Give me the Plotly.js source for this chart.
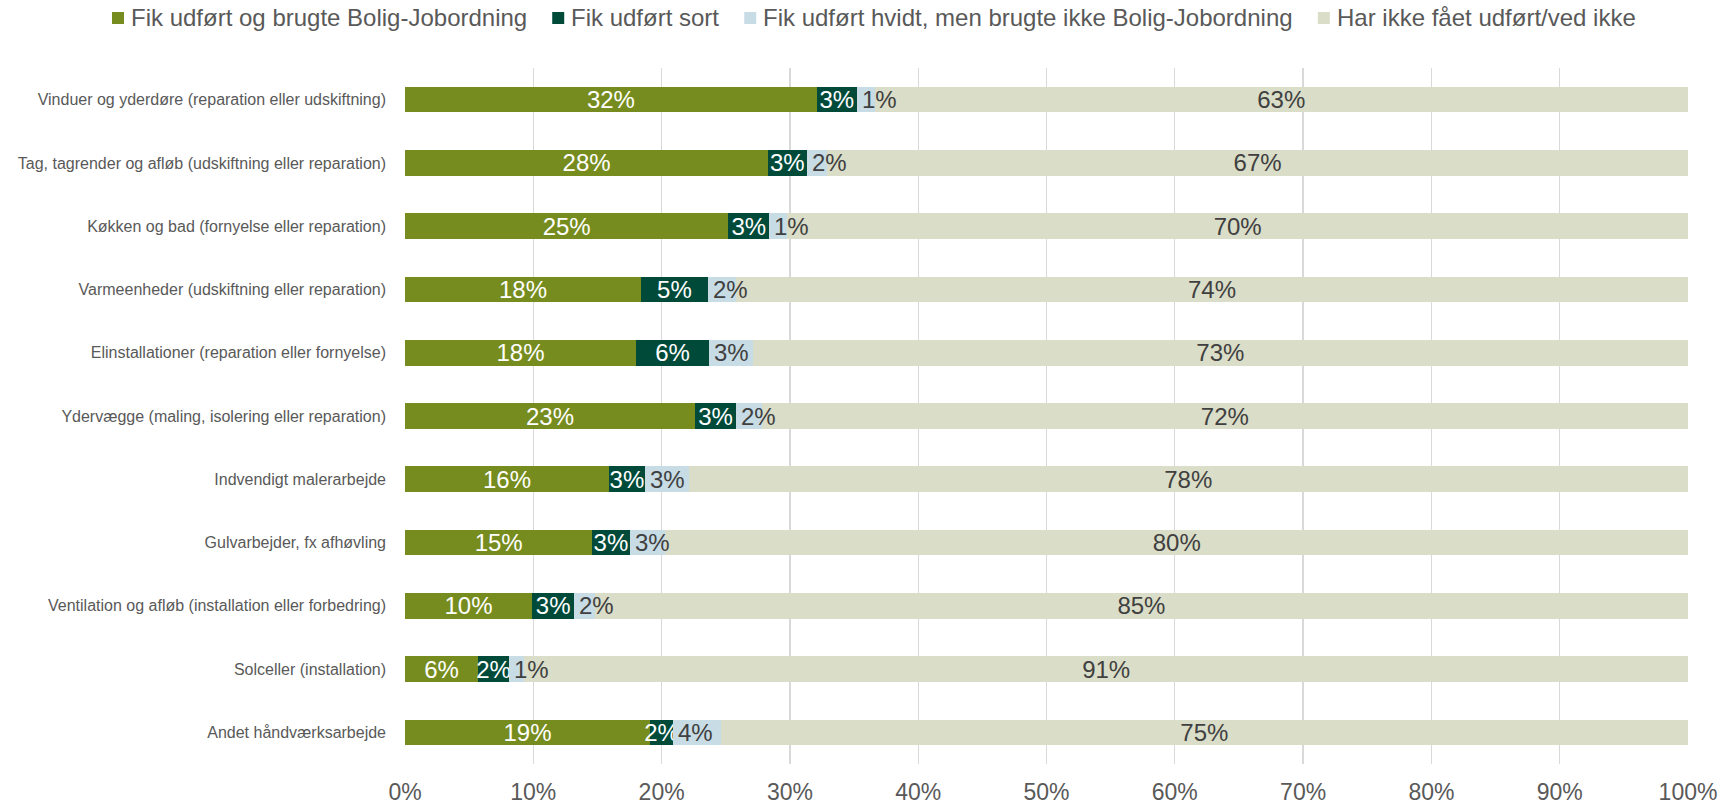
<!DOCTYPE html>
<html>
<head>
<meta charset="utf-8">
<script src="https://cdn.plot.ly/plotly-3.0.1.min.js"></script>
<style>
html,body{margin:0;padding:0;background:#fff;}
#chart{width:1735px;height:804px;}
</style>
</head>
<body>
<div id="chart"></div>
<script>
const categories = [
  "Vinduer og yderdøre (reparation eller udskiftning)",
  "Tag, tagrender og afløb (udskiftning eller reparation)",
  "Køkken og bad (fornyelse eller reparation)",
  "Varmeenheder (udskiftning eller reparation)",
  "Elinstallationer (reparation eller fornyelse)",
  "Ydervægge (maling, isolering eller reparation)",
  "Indvendigt malerarbejde",
  "Gulvarbejder, fx afhøvling",
  "Ventilation og afløb (installation eller forbedring)",
  "Solceller (installation)",
  "Andet håndværksarbejde"
];
const seriesNames = [
  "Fik udført og brugte Bolig-Jobordning",
  "Fik udført sort",
  "Fik udført hvidt, men brugte ikke Bolig-Jobordning",
  "Har ikke fået udført/ved ikke"
];
const boligJob  = [32.1, 28.3, 25.2, 18.4, 18.0, 22.6, 15.9, 14.6, 9.9, 5.7, 19.1];
const sort      = [3.1, 3.0, 3.2, 5.2, 5.7, 3.2, 2.8, 2.9, 3.3, 2.4, 1.8];
const hvidt     = [1.4, 1.6, 1.4, 2.2, 3.4, 2.0, 3.4, 2.8, 1.6, 1.2, 3.7];
const ikke      = [63.4, 67.1, 70.2, 74.2, 72.9, 72.2, 77.9, 79.7, 85.2, 90.7, 75.4];
const xTicks    = [0, 10, 20, 30, 40, 50, 60, 70, 80, 90, 100];
const xTickText = ["0%", "10%", "20%", "30%", "40%", "50%", "60%", "70%", "80%", "90%", "100%"];

const colors = ["#778C1E", "#004A3A", "#C8DCE5", "#DADDC8"];
const FONT = '"Liberation Sans", Arial, sans-serif';

const W = 1735, H = 804;
const M = {l: 405, r: 47, t: 68, b: 40};
const plotW = W - M.l - M.r, plotH = H - M.t - M.b;

function pct(v){ return Math.round(v) + "%"; }

function barTrace(values, i, textColor, showText){
  return {
    type: "bar",
    orientation: "h",
    name: seriesNames[i],
    y: categories,
    x: values,
    marker: {color: colors[i], line: {width: 0}},
    text: showText ? values.map(pct) : undefined,
    textposition: showText ? "inside" : "none",
    insidetextanchor: "middle",
    constraintext: "none",
    textangle: 0,
    textfont: {family: FONT, size: 24, color: textColor},
    hoverinfo: "skip",
    showlegend: false
  };
}

const data = [
  barTrace(boligJob, 0, "#FFFFFF", true),
  barTrace(sort, 1, "#FFFFFF", true),
  barTrace(hvidt, 2, "#404040", false),
  barTrace(ikke, 3, "#404040", true)
];

const annotations = categories.map((c, k) => ({
  x: boligJob[k] + sort[k],
  y: c,
  xref: "x",
  yref: "y",
  text: pct(hvidt[k]),
  showarrow: false,
  xanchor: "left",
  yanchor: "middle",
  xshift: 3,
  font: {family: FONT, size: 24, color: "#404040"}
}));

// measure text width with an SVG text node (same renderer as the chart)
function svgTextWidth(str, size){
  const NS = "http://www.w3.org/2000/svg";
  const svg = document.createElementNS(NS, "svg");
  svg.setAttribute("width", "2000"); svg.setAttribute("height", "100");
  svg.style.position = "absolute"; svg.style.left = "-5000px"; svg.style.top = "0";
  const t = document.createElementNS(NS, "text");
  t.setAttribute("x", "0"); t.setAttribute("y", "50");
  t.style.fontFamily = FONT; t.style.fontSize = size + "px";
  t.textContent = str;
  svg.appendChild(t);
  document.body.appendChild(svg);
  const w = t.getComputedTextLength();
  document.body.removeChild(svg);
  return w;
}

// Custom one-line legend (boxes + text)
const shapes = [];
(function buildLegend(){
  const toPX = px => (px - M.l) / plotW;
  const toPY = py => (H - M.b - py) / plotH;
  const cy = 18, box = 12, textGap = 5, itemGap = 27;
  let x = 112;
  seriesNames.forEach((name, i) => {
    shapes.push({
      type: "rect", xref: "paper", yref: "paper",
      x0: toPX(x), x1: toPX(x + box),
      y0: toPY(cy + box / 2), y1: toPY(cy - box / 2),
      fillcolor: colors[i], line: {width: 0}
    });
    const tx = x + box + textGap;
    annotations.push({
      x: toPX(tx), y: toPY(cy), xref: "paper", yref: "paper",
      text: name, showarrow: false, xanchor: "left", yanchor: "middle",
      font: {family: FONT, size: 24, color: "#595959"}
    });
    x = tx + svgTextWidth(name, 24) + itemGap;
  });
})();

const layout = {
  width: W,
  height: H,
  margin: M,
  paper_bgcolor: "#FFFFFF",
  plot_bgcolor: "#FFFFFF",
  barmode: "stack",
  bargap: 0.596,
  showlegend: false,
  xaxis: {
    range: [0, 100],
    tickvals: xTicks,
    ticktext: xTickText,
    showgrid: true,
    gridcolor: "#D9D9D9",
    gridwidth: 1.2,
    zeroline: false,
    showline: false,
    ticks: "",
    ticklabelstandoff: 12,
    tickfont: {family: FONT, size: 23, color: "#595959"},
    fixedrange: true
  },
  yaxis: {
    type: "category",
    autorange: "reversed",
    showgrid: false,
    zeroline: false,
    showline: false,
    ticks: "",
    ticklabelstandoff: 18,
    tickfont: {family: FONT, size: 16, color: "#595959"},
    fixedrange: true
  },
  shapes: shapes,
  annotations: annotations,
  font: {family: FONT, color: "#595959"}
};

Plotly.newPlot("chart", data, layout, {displayModeBar: false, staticPlot: true});
</script>
</body>
</html>
